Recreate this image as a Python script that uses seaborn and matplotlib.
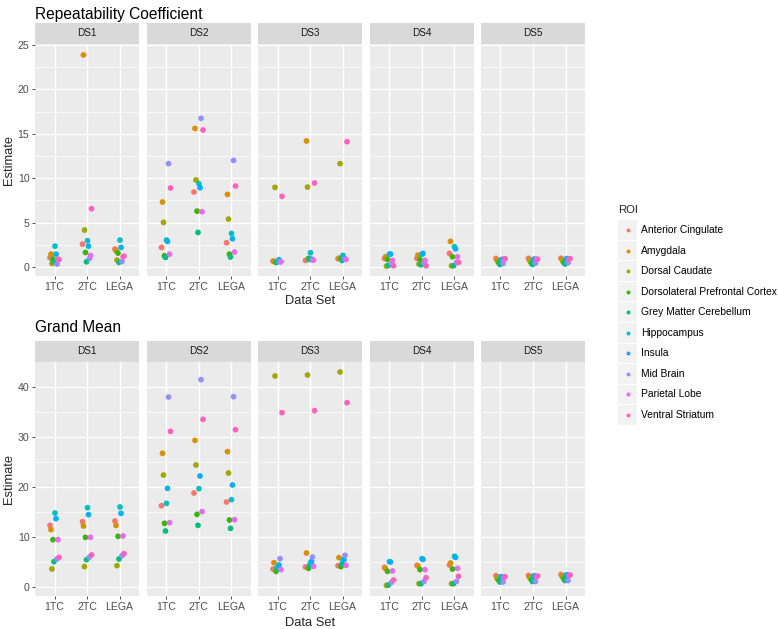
"""
Repeatability coefficient and grand mean per ROI, faceted by data set
(ggplot-style look rebuilt with seaborn/matplotlib).
"""

import matplotlib
matplotlib.use("Agg")
import matplotlib.pyplot as plt
import matplotlib.patches as mpatches
import pandas as pd
import seaborn as sns

sns.set_theme(style="darkgrid")
plt.rcParams["font.family"] = ["Liberation Sans", "DejaVu Sans"]

# ─────────────────────────────────────────────
# DATA
# one list per method: values in ROI order
# ─────────────────────────────────────────────
ROIS = [
    "Anterior Cingulate", "Amygdala", "Dorsal Caudate",
    "Dorsolateral Prefrontal Cortex", "Grey Matter Cerebellum",
    "Hippocampus", "Insula", "Mid Brain", "Parietal Lobe", "Ventral Striatum",
]
METHODS = ["1TC", "2TC", "LEGA"]
DATASETS = ["DS1", "DS2", "DS3", "DS4", "DS5"]

# ggplot default hue palette for 10 levels
ROI_COLORS = ["#F8766D", "#D89000", "#A3A500", "#39B600", "#00BF7D",
              "#00BFC4", "#00B0F6", "#9590FF", "#E76BF3", "#FF62BC"]

# Repeatability Coefficient
rc_ds1 = [[1.05, 1.46, 0.41, 0.90, 0.60, 2.36, 1.46, 0.34, 0.86, 0.86],
          [2.59, 23.87, 4.17, 1.65, 0.60, 2.97, 2.36, 0.98, 1.30, 6.57],
          [2.03, 1.84, 0.79, 1.58, 0.53, 3.04, 2.21, 0.64, 1.16, 1.24]]
rc_ds2 = [[2.21, 7.32, 5.03, 1.28, 1.09, 3.04, 2.89, 11.64, 1.46, 8.90],
          [8.45, 15.60, 9.80, 6.30, 3.90, 9.38, 8.93, 16.74, 6.23, 15.43],
          [2.74, 8.18, 5.40, 1.46, 1.13, 3.79, 3.19, 12.00, 1.69, 9.12]]
rc_ds3 = [[0.68, 0.65, 8.97, 0.53, 0.60, 0.64, 0.83, 0.60, 0.60, 7.96],
          [0.75, 14.19, 9.00, 0.98, 0.86, 1.61, 0.90, 0.79, 0.79, 9.46],
          [0.94, 1.00, 11.64, 0.98, 0.75, 1.31, 1.00, 0.90, 0.86, 14.11]]
rc_ds4 = [[0.98, 1.16, 0.11, 0.86, 0.19, 1.46, 1.46, 0.34, 0.75, 0.15],
          [0.98, 1.35, 0.34, 0.86, 0.26, 1.46, 1.54, 0.49, 0.75, 0.15],
          [1.54, 2.89, 0.15, 1.16, 0.15, 2.29, 2.06, 0.53, 1.16, 0.53]]
rc_ds5 = [[0.98, 0.79, 0.60, 0.45, 0.30, 0.79, 0.87, 0.42, 0.87, 0.94],
          [0.98, 0.80, 0.60, 0.45, 0.30, 0.85, 0.90, 0.45, 0.85, 0.90],
          [1.00, 0.85, 0.65, 0.50, 0.35, 0.90, 0.95, 0.50, 0.90, 0.95]]

# Grand Mean
gm_ds1 = [[12.33, 11.47, 3.60, 9.47, 5.07, 14.80, 13.67, 5.60, 9.47, 5.93],
          [13.07, 12.20, 4.07, 9.93, 5.47, 15.87, 14.47, 6.00, 9.93, 6.40],
          [13.20, 12.33, 4.27, 10.13, 5.60, 16.00, 14.73, 6.27, 10.20, 6.67]]
gm_ds2 = [[16.27, 26.73, 22.40, 12.73, 11.20, 16.73, 19.73, 38.00, 12.87, 31.13],
          [18.80, 29.33, 24.40, 14.53, 12.33, 19.67, 22.20, 41.47, 15.07, 33.53],
          [17.00, 27.07, 22.80, 13.40, 11.73, 17.47, 20.40, 38.07, 13.47, 31.47]]
gm_ds3 = [[3.60, 4.87, 42.20, 3.13, 3.80, 4.00, 4.40, 5.67, 3.47, 34.87],
          [4.00, 6.80, 42.40, 3.73, 4.27, 4.87, 5.07, 6.00, 4.13, 35.27],
          [4.27, 5.87, 43.00, 4.07, 4.60, 5.40, 5.47, 6.33, 4.33, 36.87]]
gm_ds4 = [[3.93, 3.70, 0.33, 3.13, 0.40, 5.07, 5.00, 0.93, 3.20, 1.40],
          [4.33, 4.20, 0.67, 3.47, 0.67, 5.67, 5.53, 1.13, 3.47, 1.87],
          [4.40, 4.80, 0.67, 3.60, 0.67, 6.13, 5.93, 1.13, 3.73, 2.13]]
gm_ds5 = [[2.27, 1.73, 1.53, 1.27, 1.00, 2.07, 1.93, 1.00, 1.93, 2.07],
          [2.30, 2.00, 1.70, 1.40, 1.10, 2.20, 2.20, 1.10, 2.10, 2.20],
          [2.50, 2.20, 1.90, 1.60, 1.30, 2.40, 2.40, 1.30, 2.30, 2.40]]

DODGE = 0.031          # horizontal shift between neighbouring ROIs
W, H = 778, 629        # output size in pixels


def long_frame(arrays):
    rows = []
    for ds, arr in zip(DATASETS, arrays):
        for method, vals in zip(METHODS, arr):
            for roi, v in zip(ROIS, vals):
                rows.append((ds, method, roi, v))
    df = pd.DataFrame(rows, columns=["Dataset", "Method", "ROI", "Estimate"])
    # dodge the ROIs side by side inside each method slot
    df["xpos"] = (df["Method"].map(METHODS.index)
                  + (df["ROI"].map(ROIS.index) - 4.5) * DODGE)
    return df


fig = plt.figure(figsize=(W / 100, H / 100), dpi=100)
fig.patch.set_facecolor("white")


def px_axes(x, y, w, h):
    return fig.add_axes([x / W, 1 - (y + h) / H, w / W, h / H])


def draw_block(df, title, y_title, y_strip, y_panel, h_panel,
               ylim, yticks, yminor, y_xlabel):
    fig.text(35 / W, 1 - y_title / H, title, fontsize=11.2,
             ha="left", va="center", color="black")
    for i, ds in enumerate(DATASETS):
        x0 = 35 + i * 111.5
        # facet strip
        st = px_axes(x0, y_strip, 104, y_panel - y_strip)
        st.set_facecolor("#D9D9D9")
        st.set_xticks([])
        st.set_yticks([])
        for sp in st.spines.values():
            sp.set_visible(False)
        st.text(0.5, 0.5, ds, ha="center", va="center",
                fontsize=7.2, color="#1A1A1A", transform=st.transAxes)

        ax = px_axes(x0, y_panel, 104, h_panel)
        ax.set_facecolor("#EBEBEB")
        sub = df[df["Dataset"] == ds]
        sns.scatterplot(data=sub, x="xpos", y="Estimate", hue="ROI",
                        hue_order=ROIS, palette=ROI_COLORS, s=17,
                        linewidth=0, legend=False, ax=ax, zorder=3)
        ax.set_xlim(-0.6, 2.6)
        ax.set_ylim(*ylim)
        ax.set_xticks(range(len(METHODS)), METHODS)
        ax.set_yticks(yticks)
        ax.set_yticks(yminor, minor=True)
        ax.grid(which="major", color="white", linewidth=1.0)
        ax.grid(which="minor", axis="y", color="white", linewidth=0.5)
        ax.set_axisbelow(True)
        for sp in ax.spines.values():
            sp.set_visible(False)
        ax.tick_params(which="major", length=2.5, width=0.6, color="#333333",
                       labelcolor="#4D4D4D", labelsize=7.6, pad=1.5,
                       bottom=True, left=(i == 0), labelleft=(i == 0))
        ax.tick_params(which="minor", length=0)
        ax.set_xlabel("")
        ax.set_ylabel("")

    fig.text(9 / W, 1 - (y_panel + h_panel / 2) / H, "Estimate",
             rotation=90, fontsize=9.3, ha="center", va="center")
    fig.text(310 / W, 1 - y_xlabel / H, "Data Set", fontsize=9.3,
             ha="center", va="center")


rc = long_frame([rc_ds1, rc_ds2, rc_ds3, rc_ds4, rc_ds5])
gm = long_frame([gm_ds1, gm_ds2, gm_ds3, gm_ds4, gm_ds5])

draw_block(rc, "Repeatability Coefficient", 14, 23, 44, 232,
           (-1.0, 25.1), [0, 5, 10, 15, 20, 25], [2.5, 7.5, 12.5, 17.5, 22.5], 301)
draw_block(gm, "Grand Mean", 328, 341, 362, 234,
           (-1.8, 45.0), [0, 10, 20, 30, 40], [5, 15, 25, 35], 623)

# ─────────────────────────────────────────────
# LEGEND (ggplot-like: grey key boxes)
# ─────────────────────────────────────────────
lg = px_axes(610, 195, 168, 235)
lg.set_xlim(610, 778)
lg.set_ylim(430, 195)
lg.axis("off")
lg.text(618, 210, "ROI", fontsize=8.2, ha="left", va="center")
for i, (roi, col) in enumerate(zip(ROIS, ROI_COLORS)):
    yc = 230 + i * 20.55
    lg.add_patch(mpatches.Rectangle((618, yc - 9.8), 19, 19.6,
                                    facecolor="#F2F2F2", edgecolor="none"))
    lg.scatter([628], [yc], s=8, color=col, linewidths=0, zorder=3)
    lg.text(641, yc, roi, fontsize=7.4, ha="left", va="center", color="black")

fig.savefig("out.png", dpi=100)
